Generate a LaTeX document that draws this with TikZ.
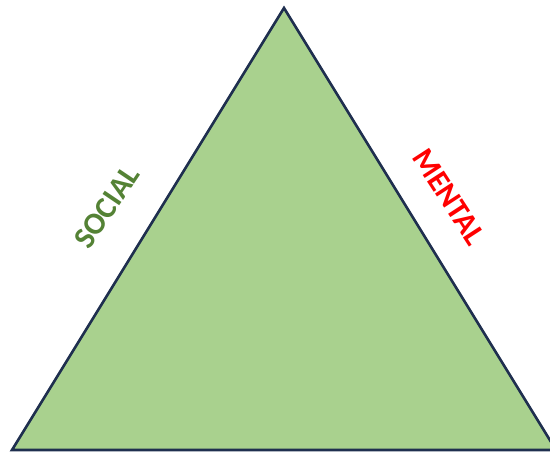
\documentclass[tikz,border=0pt]{standalone}
\usepackage{fontspec}
\setmainfont{Carlito}
\definecolor{trifill}{HTML}{A9D18E}
\definecolor{triline}{HTML}{1F2F4F}
\definecolor{socialc}{HTML}{548235}
\definecolor{mentalc}{HTML}{FF0000}
\tikzset{
  sidelabel/.style={font=\bfseries\fontsize{31}{36}\selectfont, inner sep=0pt},
  tri/.style={fill=trifill, draw=triline, line width=2.6pt, line join=miter}
}
\begin{document}
\begin{tikzpicture}[x=1pt,y=-1pt]
\useasboundingbox (0,0) rectangle (550,453);
\coordinate (apex) at (284,8);
\coordinate (bl) at (12,450);
\coordinate (br) at (556,450);
\begin{scope}
\clip (0,0) rectangle (550,453);
\draw[tri] (bl) -- (apex) -- (br) -- cycle;
\end{scope}
\node[sidelabel, text=socialc, rotate=56] (social) at (107,207) {SOCIAL};
\node[sidelabel, text=mentalc, rotate=-57] (mental) at (449,197) {MENTAL};
\end{tikzpicture}
\end{document}
